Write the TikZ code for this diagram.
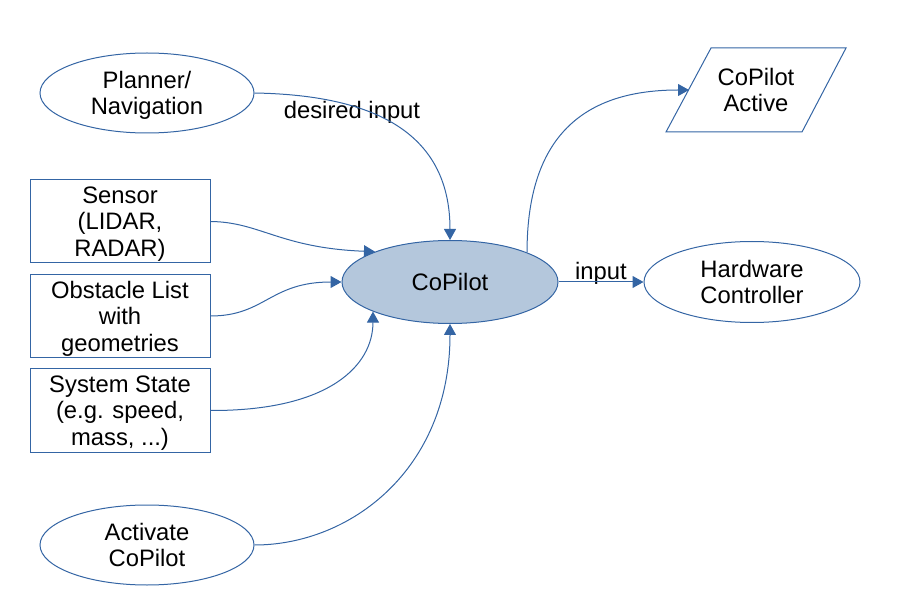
\documentclass[tikz,border=0pt]{standalone}
\usepackage{fontspec}
\setmainfont{Liberation Sans}
\usetikzlibrary{arrows.meta,shapes.geometric}
\definecolor{lnblue}{HTML}{3465A4}
\definecolor{cpfill}{HTML}{B4C7DC}
\tikzset{
  txt/.style={font=\fontsize{23.8}{26.5}\selectfont, align=center, text=black},
  ell/.style={txt, text depth=0pt, ellipse, draw=lnblue, line width=1pt, inner sep=0pt, minimum width=214pt, minimum height=80pt},
  box/.style={txt, text depth=0pt, rectangle, draw=lnblue, line width=1pt, inner sep=0pt, minimum width=180pt, minimum height=83pt},
  conn/.style={draw=lnblue, line width=1pt, -{Triangle[length=11pt,width=12pt]}, color=lnblue},
  lbl/.style={txt, inner sep=0pt, anchor=base},
}
\begin{document}
\begin{tikzpicture}[x=1pt,y=-1pt]
\useasboundingbox (0,0) rectangle (910,609);
\node[ell] (plan) at (147,93) {Planner/\\Navigation};
\node[box] (sens) at (120,221.5) {Sensor\\(LIDAR,\\RADAR)};
\node[box] (obst) at (120,316) {Obstacle List\\with\\geometries};
\node[box] (sys) at (120,410.5) {System State\\(e.g. speed,\\mass, ...)};
\node[ell] (act) at (147,545) {Activate\\CoPilot};
\node[ell, fill=cpfill, minimum width=216pt, minimum height=83pt] (cop) at (450,282) {CoPilot};
\node[ell, minimum width=216pt, minimum height=81pt] (hw) at (752,282) {Hardware\\Controller};
\draw[lnblue, line width=1pt] (711,48) -- (846,48) -- (802,132) -- (666,132) -- cycle;
\node[txt, text depth=0pt, inner sep=0pt] (cpa) at (756,90) {CoPilot\\Active};
\coordinate (cpain) at (689,90);
\node[lbl] (dlbl) at (352,119) {desired input};
\node[lbl] (ilbl) at (601,280) {input};
\draw[conn] (plan.east) .. controls (370,95) and (450,130) .. (cop.north);
\draw[conn] (sens.east) .. controls (260,222) and (280,248) .. (cop.158.7);
\draw[conn] (obst.east) .. controls (265,316) and (270,282) .. (cop.west);
\draw[conn] (sys.east) .. controls (330,411) and (373,365) .. (cop.201.3);
\draw[conn] (act.east) .. controls (350,545) and (450,470) .. (cop.south);
\draw[conn] (cop.21) .. controls (527,130) and (590,90) .. (cpain);
\draw[conn] (cop.east) -- (hw.west);
\end{tikzpicture}
\end{document}
